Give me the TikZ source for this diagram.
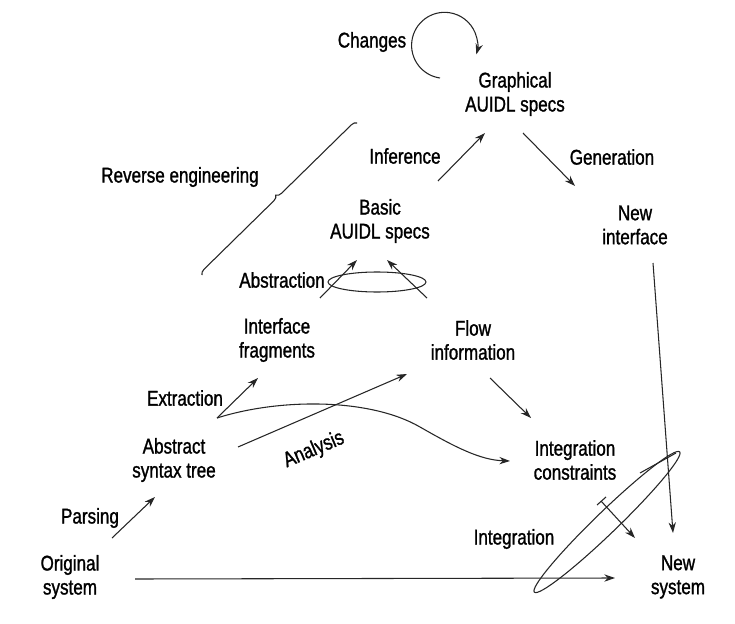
\documentclass[tikz,border=0pt]{standalone}
\usepackage{fontspec}
\setmainfont{Liberation Sans}[FakeStretch=0.8,FakeBold=1.2]
\usetikzlibrary{arrows.meta,decorations.pathreplacing}
\begin{document}
\begin{tikzpicture}[x=0.75pt,y=-0.75pt,
  lbl/.style={inner sep=0pt,align=center,font=\fontsize{16}{18}\selectfont},
  ln/.style={line width=0.8pt,draw=black!85},
  arr/.style={ln,-{Stealth[length=8pt,width=5.5pt]}}]
\useasboundingbox (0,0) rectangle (735,624);

% stages and activities
\node[lbl] (changes) at (372,42) {Changes};
\node[lbl] (graph)   at (515,94) {Graphical\\AUIDL specs};
\node[lbl] (infer)   at (405,156) {Inference};
\node[lbl] (gen)     at (612,157) {Generation};
\node[lbl] (newif)   at (635,225) {New\\interface};
\node[lbl] (reveng)  at (180,177) {Reverse engineering};
\node[lbl] (basic)   at (380,221) {Basic\\AUIDL specs};
\node[lbl] (abstr)   at (282,280) {Abstraction};
\node[lbl] (iface)   at (277,340) {Interface\\fragments};
\node[lbl] (flow)    at (473,340) {Flow\\information};
\node[lbl] (extr)    at (185,398) {Extraction};
\node[lbl] (ast)     at (174,460) {Abstract\\syntax tree};
\node[lbl,rotate=23] (anal) at (314,450) {Analysis};
\node[lbl] (parse)   at (90,518) {Parsing};
\node[lbl] (orig)    at (70,577) {Original\\system};
\node[lbl] (integc)  at (575,460) {Integration\\constraints};
\node[lbl] (integ)   at (514,539) {Integration};
\node[lbl] (newsys)  at (678,577) {New\\system};

% connector end points
\coordinate (loopS) at (440,78);
\coordinate (infS) at (438,181);  \coordinate (infE) at (485,133);
\coordinate (genS) at (523,133);  \coordinate (genE) at (575,186);
\coordinate (abLS) at (320,298);  \coordinate (abLE) at (357,260);
\coordinate (abRS) at (427,298);  \coordinate (abRE) at (387,260);
\coordinate (exS)  at (217,418);  \coordinate (exE)  at (258,378);
\coordinate (cvM)  at (420,427);  \coordinate (cvE)  at (510,461);
\coordinate (anS)  at (238,447);  \coordinate (anE)  at (407,374);
\coordinate (flS)  at (490,378);  \coordinate (flE)  at (531,418);
\coordinate (paS)  at (112,538);  \coordinate (paE)  at (155,497);
\coordinate (orS)  at (135,579);  \coordinate (orE)  at (615,578);
\coordinate (niS)  at (653,263);  \coordinate (niE)  at (673,533);
\coordinate (inS)  at (601,501);  \coordinate (inE)  at (635,538);
\coordinate (brS)  at (202,275);  \coordinate (brE)  at (357,123);

% self loop for changes
\draw[arr] (loopS) arc[start angle=98,end angle=376,radius=33];

% reverse engineering brace
\draw[ln,decorate,decoration={brace,amplitude=4pt}] (brS) -- (brE);

% upper arrows
\draw[arr] (infS) -- (infE);
\draw[arr] (genS) -- (genE);
\draw[arr] (abLS) -- (abLE);
\draw[arr] (abRS) -- (abRE);
\draw[ln] (377,282) ellipse [x radius=49,y radius=10];

% middle arrows
\draw[arr] (exS) -- (exE);
\draw[arr] (exS) .. controls (280,398) and (370,398) .. (cvM)
                 .. controls (455,447) and (480,460) .. (cvE);
\draw[arr] (anS) -- (anE);
\draw[arr] (flS) -- (flE);

% lower arrows
\draw[arr] (paS) -- (paE);
\draw[arr] (orS) -- (orE);
\draw[arr] (niS) -- (niE);
\draw[arr] (inS) -- (inE);
\draw[ln] ([shift={(-4,4)}]inS) -- ([shift={(5,-4)}]inS);

% integration lasso
\draw[ln,shift={(607,522)},rotate=44] (0,0) ellipse [x radius=101,y radius=11];
\draw[ln] (640,473) -- (676,453);
\end{tikzpicture}
\end{document}
